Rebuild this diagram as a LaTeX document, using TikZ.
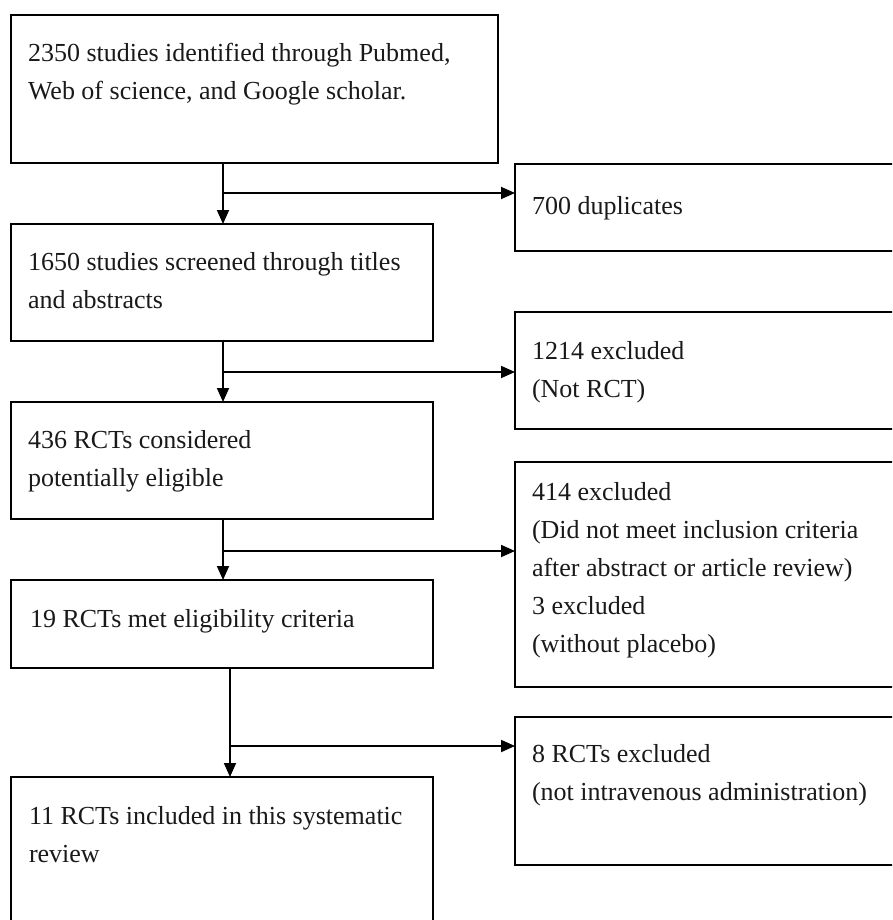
\documentclass[tikz,border=0pt]{standalone}
\usepackage{fontspec}
\setmainfont{Liberation Serif}
\usetikzlibrary{arrows.meta,calc}
\newcommand{\myStrut}{\rule{0pt}{20pt}}
\begin{document}
\begin{tikzpicture}[x=1pt,y=-1pt,
  box/.style={draw, line width=1.8pt, rectangle, inner sep=0pt, outer sep=0pt, anchor=north west},
  txt/.style={anchor=north west, inner sep=0pt, outer sep=0pt, align=left, text=black!90, font=\fontsize{26}{38}\selectfont},
  arr/.style={line width=1.8pt, -{Triangle[length=14pt,width=12pt]}},
  ln/.style={line width=1.8pt}]
\useasboundingbox (0,0) rectangle (892,920);
\clip (0,0) rectangle (892,920);

% left boxes
\node[box, minimum width=487pt, minimum height=148pt] (b1) at (11,15) {};
\node[box, minimum width=422pt, minimum height=117pt] (b2) at (11,224) {};
\node[box, minimum width=422pt, minimum height=117pt] (b3) at (11,402) {};
\node[box, minimum width=422pt, minimum height=88pt]  (b4) at (11,580) {};
\node[box, minimum width=422pt, minimum height=150pt] (b5) at (11,777) {};

% right boxes
\node[box, minimum width=390pt, minimum height=87pt]  (r1) at (515,164) {};
\node[box, minimum width=390pt, minimum height=117pt] (r2) at (515,312) {};
\node[box, minimum width=390pt, minimum height=225pt] (r3) at (515,462) {};
\node[box, minimum width=390pt, minimum height=148pt] (r4) at (515,717) {};

% texts
\node[txt] (t1) at (28,42) {\myStrut 2350 studies identified through Pubmed,\\Web of science, and Google scholar.};
\node[txt] (t2) at (28,250) {\myStrut 1650 studies screened through titles\\and abstracts};
\node[txt] (t3) at (28,428) {\myStrut 436 RCTs considered\\potentially eligible};
\node[txt] (t4) at (30,607) {\myStrut 19 RCTs met eligibility criteria};
\node[txt] (t5) at (29,804) {\myStrut 11 RCTs included in this systematic\\review};

\node[txt] (s1) at (532,194) {\myStrut 700 duplicates};
\node[txt] (s2) at (532,339) {\myStrut 1214 excluded\\(Not RCT)};
\node[txt] (s3) at (532,480) {\myStrut 414 excluded\\(Did not meet inclusion criteria\\after abstract or article review)\\3 excluded\\(without placebo)};
\node[txt] (s4) at (532,742) {\myStrut 8 RCTs excluded\\(not intravenous administration)};

% junctions
\coordinate (j1) at (223,193);
\coordinate (j2) at (223,372);
\coordinate (j3) at (223,551);
\coordinate (j4) at (230,746);

% connectors
\draw[arr] (b1.south -| j1) -- (b2.north -| j1);
\draw[arr] (j1) -- (j1 -| r1.west);
\draw[arr] (b2.south -| j2) -- (b3.north -| j2);
\draw[arr] (j2) -- (j2 -| r2.west);
\draw[arr] (b3.south -| j3) -- (b4.north -| j3);
\draw[arr] (j3) -- (j3 -| r3.west);
\draw[arr] (b4.south -| j4) -- (b5.north -| j4);
\draw[arr] (j4) -- (j4 -| r4.west);
\end{tikzpicture}
\end{document}
